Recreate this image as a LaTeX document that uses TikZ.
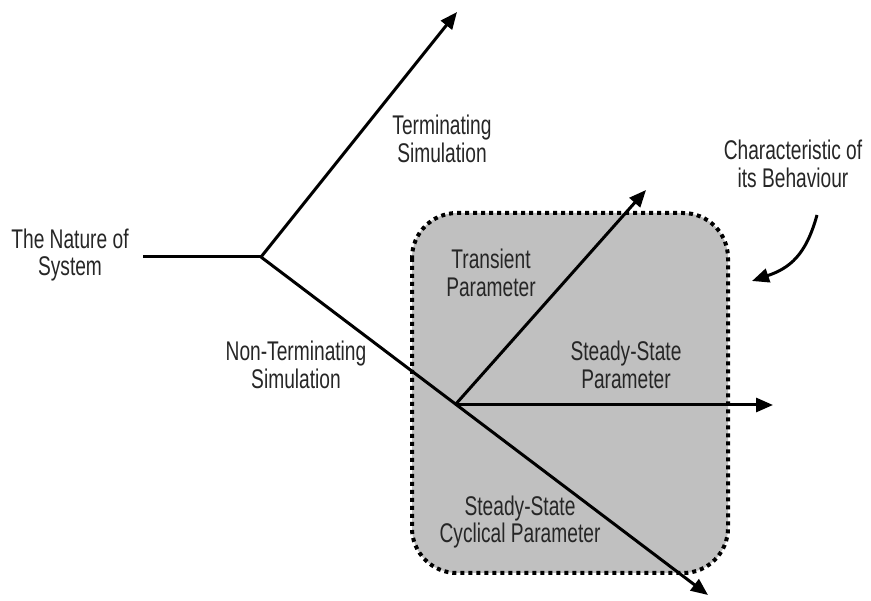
\documentclass[tikz,border=0pt]{standalone}
\usepackage{fontspec}
\setmainfont[FakeStretch=0.71]{Liberation Sans}
\usetikzlibrary{arrows.meta}
\definecolor{boxgray}{RGB}{192,192,192}
\begin{document}
\begin{tikzpicture}[x=1pt,y=-1pt,
  lbl/.style={align=center,font=\fontsize{27}{27.5}\selectfont,text=black!85,inner sep=0pt},
  ln/.style={line width=3pt},
  arr/.style={line width=3pt,-{Triangle[length=17pt,width=14pt]}},
  dotbox/.style={fill=boxgray,draw=black,line width=4pt,dash pattern=on 4pt off 4pt,rounded corners=45pt}]
\useasboundingbox (0,0) rectangle (871,601);
% region
\draw[dotbox] (412,213) rectangle (728,573);
% coordinates
\coordinate (start) at (143,257);
\coordinate (b1) at (261,257);
\coordinate (t1) at (457,12);
\coordinate (b2) at (455,405);
\coordinate (t2) at (708,595);
\coordinate (t3) at (646,190);
\coordinate (t4) at (773,405);
\coordinate (cs) at (817,215);
\coordinate (ce) at (752,281);
% lines
\draw[ln] (start) -- (b1);
\draw[arr] (b1) -- (t1);
\draw[arr] (b1) -- (t2);
\draw[arr] (b2) -- (t3);
\draw[arr] (b2) -- (t4);
\draw[arr] (cs) .. controls (806,255) and (790,268) .. (ce);
% labels
\node[lbl] (nature) at (70,255) {The Nature of\\System};
\node[lbl] (term) at (442,139) {Terminating\\Simulation};
\node[lbl] (char) at (793,164) {Characteristic of\\its Behaviour};
\node[lbl] (trans) at (491,273) {Transient\\Parameter};
\node[lbl] (nonterm) at (296,365) {Non-Terminating\\Simulation};
\node[lbl] (steady) at (626,365) {Steady-State\\Parameter};
\node[lbl] (cyc) at (520,522) {Steady-State\\Cyclical Parameter};
\end{tikzpicture}
\end{document}
